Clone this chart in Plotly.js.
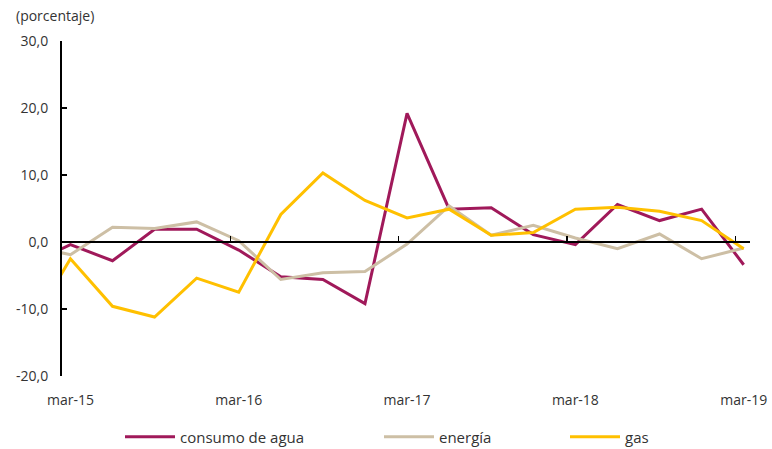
<!DOCTYPE html>
<html>
<head>
<meta charset="utf-8">
<script src="https://cdn.plot.ly/plotly-3.0.1.min.js"></script>
<style>html,body{margin:0;padding:0;background:#fff;}#chart{width:772px;height:449px;}</style>
</head>
<body>
<div id="chart"></div>
<script>
// Quarterly periods (first one only partly visible at the left edge)
const periods = ['dic-14','mar-15','jun-15','sep-15','dic-15','mar-16','jun-16','sep-16','dic-16',
                 'mar-17','jun-17','sep-17','dic-17','mar-18','jun-18','sep-18','dic-18','mar-19'];
const consumoAgua = [-3.3, -0.4, -2.8, 1.9, 1.9, -1.2, -5.2, -5.6, -9.2, 19.2, 4.9, 5.1, 1.1, -0.4, 5.6, 3.2, 4.9, -3.4];
const energia     = [-0.5, -1.9, 2.2, 2.0, 3.0, 0.2, -5.6, -4.6, -4.4, -0.3, 5.4, 1.0, 2.5, 0.6, -1.0, 1.2, -2.5, -0.9];
const gas         = [-13.1, -2.5, -9.6, -11.2, -5.4, -7.5, 4.1, 10.3, 6.2, 3.6, 4.9, 1.0, 1.4, 4.9, 5.2, 4.6, 3.2, -1.0];

const seriesNames = ['consumo de agua', 'energía', 'gas'];
const xLabels = ['mar-15','mar-16','mar-17','mar-18','mar-19'];
const yTickVals = [-20, -10, 0, 10, 20, 30];
const yTickText = ['-20,0','-10,0','0,0','10,0','20,0','30,0'];

// numeric position of each period: mar-15 = 0
const xPos = periods.map((p, i) => i - 1);
const labelPos = xLabels.map(l => xPos[periods.indexOf(l)]);
const yearTicks = labelPos.slice(0, 4).map(v => v + 3.8);

const colors = ['#A0195A', '#CDBFA5', '#FFC000'];
const font = {family: 'Open Sans, sans-serif', size: 14, color: '#333333'};
const legFont = {family: 'Open Sans, sans-serif', size: 15, color: '#333333'};

const values = [consumoAgua, energia, gas];
const legendIds = ['legend', 'legend2', 'legend3'];
const traces = values.map((v, i) => ({
  x: xPos, y: v, name: seriesNames[i], type: 'scatter', mode: 'lines',
  line: {color: colors[i], width: 3}, legend: legendIds[i]
}));
traces.push({x: [null], y: [null], xaxis: 'x2', showlegend: false, hoverinfo: 'skip',
             type: 'scatter', mode: 'lines'});

const legendX = [120, 379, 565];
function legendCfg(px) {
  return {orientation: 'h', xref: 'container', x: px / 772, xanchor: 'left',
          yref: 'container', y: 12 / 449, yanchor: 'middle', font: legFont,
          itemwidth: 50, bgcolor: 'rgba(0,0,0,0)'};
}

const xr = [-0.2, 16.15];
const layout = {
  width: 772, height: 449,
  margin: {l: 62, r: 22, t: 41, b: 73},
  paper_bgcolor: '#fff', plot_bgcolor: '#fff',
  font: font,
  showlegend: true,
  legend: legendCfg(legendX[0]),
  legend2: legendCfg(legendX[1]),
  legend3: legendCfg(legendX[2]),
  xaxis: {range: xr, tickvals: labelPos, ticktext: xLabels, showgrid: false, zeroline: false,
          showline: false, ticks: '', ticklabelstandoff: 14, tickfont: font, fixedrange: true},
  xaxis2: {range: xr, overlaying: 'x', anchor: 'free', position: 0.4, side: 'bottom',
           showline: true, linecolor: '#000', linewidth: 2, ticks: 'inside', ticklen: 5,
           tickwidth: 1.5, tickcolor: '#000', tickvals: yearTicks, showticklabels: false,
           showgrid: false, zeroline: false, fixedrange: true},
  yaxis: {range: [-20, 30], tickvals: yTickVals, ticktext: yTickText, showgrid: false,
          zeroline: false, showline: true, linecolor: '#000', linewidth: 2,
          ticks: 'inside', ticklen: 5, tickwidth: 2, tickcolor: '#000',
          ticklabelstandoff: 9, tickfont: font, fixedrange: true},
  annotations: [{text: '(porcentaje)', xref: 'paper', yref: 'paper', x: -0.0698, y: 1.0,
                 xanchor: 'left', yanchor: 'bottom', yshift: 14, showarrow: false, font: font}]
};

Plotly.newPlot('chart', traces, layout, {displayModeBar: false, staticPlot: true});
</script>
</body>
</html>
